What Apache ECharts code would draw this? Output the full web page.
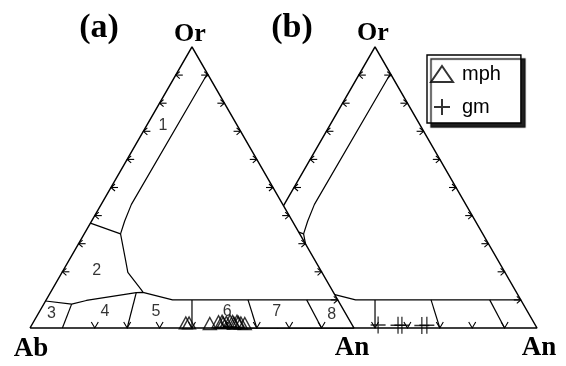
<!DOCTYPE html>
<html>
<head>
<meta charset="utf-8">
<script src="https://cdn.jsdelivr.net/npm/echarts@6/dist/echarts.min.js"></script>
<style>html,body{margin:0;padding:0;background:#fff}#chart{width:566px;height:366px}</style>
</head>
<body>
<div id="chart"></div>
<script>
// ---- ternary data, points given as [An %, Or %] (Ab = 100 - An - Or) ----
const frame = [[0, 0], [0, 100], [100, 0], [0, 0]];
const sanidineLine = [[9.5, 90.5], [9.3, 44], [10.2, 38], [11.2, 33.5]];
const anorthoclaseTop = [[0, 37.3], [11.2, 33.5]];
const anorthoclaseRight = [[11.2, 33.5], [17, 24.8], [20.3, 19.8], [27.8, 13.4], [28.5, 12.7]];
const plagioclaseTop = [[0, 9.6], [8.6, 8.5], [12.5, 9.8], [26.5, 12.6], [28.5, 12.7], [39, 10], [90, 10]];
const divisions = [
  [[10, 0], [8.6, 8.5]],
  [[30, 0], [26.5, 12.6]],
  [[50, 0], [45, 10]],
  [[70, 0], [62.3, 10]],
  [[90, 0], [80.4, 10]]
];
const leftTickOr = [20, 30, 40, 50, 60, 70, 80, 90];
const rightTickOr = [10, 20, 30, 40, 50, 60, 70, 80, 90];
const baseTickAn = [20, 30, 40, 50, 60, 70, 80, 90];
const fieldNames = ['1', '2', '3', '4', '5', '6', '7', '8'];
const fieldPts = [[5, 72], [10.3, 20.6], [4, 5.3], [20.3, 5.7], [36, 5.7], [57.9, 6.0], [73.3, 5.7], [90.8, 4.6]];
// mph (triangles) plotted in diagram (a)
const mphPts = [[47.2, 1.8], [48.2, 1.8], [54.7, 1.6], [57.1, 2.2], [58.1, 2.4], [58.7, 1.8], [59.6, 2.0],
  [60.5, 2.5], [61.4, 2.3], [62.1, 1.7], [62.7, 2.4], [63.3, 2.0], [64.2, 1.8], [65.5, 1.6]];
// gm (crosses) plotted in diagram (b)
const gmPts = [[50.4, 1.1], [56.6, 1.0], [57.8, 1.0], [64.0, 0.9], [65.5, 1.0]];
const titles = ['(a)', '(b)'];
const vertexLabels = ['Ab', 'Or', 'An', 'Or', 'An'];

const SQ = Math.sqrt(3) / 2;
const OFF_B = 56.5;
function tern(p, off) { return [p[0] + p[1] / 2 + off, p[1] * SQ]; }

const BLACK = '#000';
function lineSeries(pts, off, z, w) {
  return {
    type: 'line', data: pts.map(p => tern(p, off)), symbol: 'none', showSymbol: false,
    lineStyle: { color: BLACK, width: w || 1.2 }, z: z, clip: false, silent: true, animation: false
  };
}
function tickSeries(pts, dir, off, z) {
  return {
    type: 'custom', z: z, clip: false, silent: true, animation: false,
    encode: { x: 0, y: 1 },
    data: pts.map(p => tern(p, off)),
    renderItem: function (params, api) {
      const c = api.coord([api.value(0), api.value(1)]);
      const x = c[0], y = c[1];
      let shapes = [];
      if (dir === 'left') {
        shapes = [[[x + 7, y], [x, y]], [[x + 4, y - 3.5], [x, y], [x + 4, y + 3.5]]];
      } else if (dir === 'right') {
        shapes = [[[x - 7, y], [x, y]], [[x - 4, y - 3.5], [x, y], [x - 4, y + 3.5]]];
      } else {
        shapes = [[[x - 3.5, y - 6], [x, y], [x + 3.5, y - 6]]];
      }
      return {
        type: 'group',
        children: shapes.map(s => ({ type: 'polyline', shape: { points: s }, style: { stroke: BLACK, lineWidth: 1.1, fill: null } }))
      };
    }
  };
}
function diagram(off, z) {
  const s = [
    lineSeries(frame, off, z, 1.5),
    lineSeries(sanidineLine, off, z),
    lineSeries(anorthoclaseTop, off, z),
    lineSeries(anorthoclaseRight, off, z),
    lineSeries(plagioclaseTop, off, z)
  ];
  divisions.forEach(d => s.push(lineSeries(d, off, z)));
  s.push(tickSeries(leftTickOr.map(o => [0, o]), 'left', off, z));
  s.push(tickSeries(rightTickOr.map(o => [100 - o, o]), 'right', off, z));
  s.push(tickSeries(baseTickAn.map(a => [a, 0]), 'base', off, z));
  return s;
}

const series = [];
diagram(OFF_B, 1).forEach(s => series.push(s));
// white face of diagram (a) covering the part of (b) behind it
series.push({
  type: 'custom', z: 2, clip: false, silent: true, animation: false, encode: { x: 0, y: 1 },
  data: [tern(frame[0], 0)],
  renderItem: function (params, api) {
    return { type: 'polygon', shape: { points: frame.map(p => api.coord(tern(p, 0))) }, style: { fill: '#fff', stroke: null } };
  }
});
diagram(0, 3).forEach(s => series.push(s));

const plusPath = 'path://M5,0L5,10M0,5L10,5';
series.push({
  name: 'mph', type: 'scatter', symbol: 'triangle', symbolSize: [13, 12], z: 4, clip: false, animation: false,
  itemStyle: { color: 'rgba(0,0,0,0)', borderColor: BLACK, borderWidth: 1.4 },
  data: mphPts.map(p => tern(p, 0))
});
series.push({
  name: 'gm', type: 'scatter', symbol: plusPath, symbolSize: [15, 17], z: 4, clip: false, animation: false,
  itemStyle: { color: 'rgba(0,0,0,0)', borderColor: BLACK, borderWidth: 1.4 },
  data: gmPts.map(p => tern(p, OFF_B))
});
// field numbers
series.push({
  type: 'scatter', symbolSize: 1, z: 5, clip: false, silent: true, animation: false,
  itemStyle: { color: 'rgba(0,0,0,0)' },
  label: { show: true, position: 'inside', formatter: p => p.name, fontFamily: 'Liberation Sans', fontSize: 16, color: BLACK },
  data: fieldPts.map((p, i) => ({ name: fieldNames[i], value: tern(p, 0) }))
});

function txt(t, x, y, size) {
  return { type: 'text', x: x, y: y, z: 10, style: { text: t, font: 'bold ' + size + 'px "Liberation Serif"', align: 'center', verticalAlign: 'middle', fill: BLACK } };
}

const chart = echarts.init(document.getElementById('chart'), null, { renderer: 'canvas' });
chart.setOption({
  animation: false,
  backgroundColor: '#fff',
  grid: { left: 30, right: 29, top: 47, bottom: 38 },
  xAxis: { type: 'value', min: 0, max: 156.5, show: false },
  yAxis: { type: 'value', min: 0, max: 86.6, show: false },
  legend: {
    left: 427, top: 55, orient: 'vertical',
    data: ['mph', 'gm'],
    padding: [8, 20, 5, 3],
    itemWidth: 22, itemHeight: 16, itemGap: 11,
    textStyle: { fontFamily: 'Liberation Sans', fontSize: 20, color: BLACK, lineHeight: 22, padding: [0, 0, 0, 4] },
    backgroundColor: '#fff', borderColor: BLACK, borderWidth: 1.4, borderRadius: 0,
    shadowColor: 'rgba(20,20,20,0.95)', shadowBlur: 1, shadowOffsetX: 4, shadowOffsetY: 4,
    selectedMode: false
  },
  graphic: [
    txt(titles[0], 99, 28, 34),
    txt(titles[1], 292, 28, 34),
    txt(vertexLabels[0], 31, 349, 27),
    txt(vertexLabels[1], 190, 34, 26),
    txt(vertexLabels[2], 352, 348, 27),
    txt(vertexLabels[3], 373, 33, 26),
    txt(vertexLabels[4], 539, 348, 27)
  ],
  series: series
});
</script>
</body>
</html>
